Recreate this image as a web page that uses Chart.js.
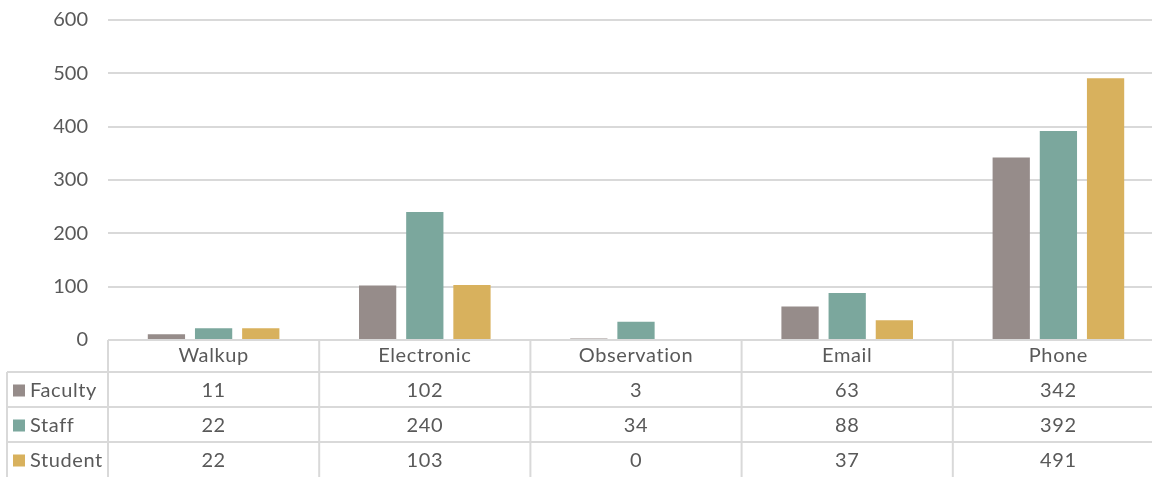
<!DOCTYPE html>
<html>
<head>
<meta charset="utf-8">
<script src="https://cdn.jsdelivr.net/npm/chart.js@4/dist/chart.umd.min.js"></script>
<style>
  html, body { margin: 0; padding: 0; background: #fff; overflow: hidden; }
  #wrap { width: 1164px; height: 477px; position: relative; }
</style>
</head>
<body>
<div id="wrap"><canvas id="c"></canvas></div>
<script>
const categories = ['Walkup', 'Electronic', 'Observation', 'Email', 'Phone'];
const seriesNames = ['Faculty', 'Staff', 'Student'];
const faculty = [11, 102, 3, 63, 342];
const staff = [22, 240, 34, 88, 392];
const student = [22, 103, 0, 37, 491];
const seriesColors = ['#968C8A', '#7BA79D', '#D8B15D'];

const FONT = 'Lato, "Open Sans", sans-serif';
const TEXT = '#595959';
const LINE = '#D9D9D9';
const seriesValues = [faculty, staff, student];

// Data table under the plot: header row with categories, one row per series
const dataTable = {
  id: 'dataTable',
  afterDraw(chart) {
    const ctx = chart.ctx;
    const xs = chart.scales.x;
    const area = chart.chartArea;
    const top = area.bottom;
    const rowTops = [top, top + 32, top + 67, top + 102, top + 137];
    const colW = (area.right - area.left) / categories.length;
    const labelLeft = 7;

    ctx.save();
    ctx.strokeStyle = LINE;
    ctx.lineWidth = 2;
    // horizontal rules
    for (let r = 1; r <= 3; r++) {
      ctx.beginPath();
      ctx.moveTo(labelLeft, rowTops[r]);
      ctx.lineTo(area.right, rowTops[r]);
      ctx.stroke();
    }
    // vertical rules
    ctx.beginPath();
    ctx.moveTo(labelLeft, rowTops[1]);
    ctx.lineTo(labelLeft, rowTops[4]);
    ctx.stroke();
    for (let i = 0; i < categories.length; i++) {
      const x = area.left + i * colW;
      ctx.beginPath();
      ctx.moveTo(x, top);
      ctx.lineTo(x, rowTops[4]);
      ctx.stroke();
    }

    ctx.fillStyle = TEXT;
    ctx.font = '20px ' + FONT;
    ctx.letterSpacing = '0.6px';
    ctx.textBaseline = 'middle';
    ctx.textAlign = 'center';
    categories.forEach((cat, i) => {
      const cx = xs.getPixelForValue(i);
      ctx.fillText(cat, cx, (rowTops[0] + rowTops[1]) / 2);
      seriesValues.forEach((vals, s) => {
        ctx.fillText(String(vals[i]), cx, (rowTops[s + 1] + rowTops[s + 2]) / 2 + 1);
      });
    });

    // series names with colour keys
    ctx.textAlign = 'left';
    seriesNames.forEach((name, s) => {
      const cy = (rowTops[s + 1] + rowTops[s + 2]) / 2 + 1;
      ctx.fillStyle = seriesColors[s];
      ctx.fillRect(13, cy - 6, 12, 12);
      ctx.fillStyle = TEXT;
      ctx.fillText(name, 30, cy);
    });
    ctx.restore();
  }
};

new Chart(document.getElementById('c'), {
  type: 'bar',
  data: {
    labels: categories,
    datasets: seriesNames.map((name, s) => ({
      label: name,
      data: seriesValues[s],
      backgroundColor: seriesColors[s],
      borderColor: '#FFFFFF',
      borderWidth: 0,
      categoryPercentage: 0.67,
      barPercentage: 0.79
    }))
  },
  options: {
    responsive: true,
    maintainAspectRatio: false,
    animation: false,
    layout: { padding: { top: 20, bottom: 137, left: 0, right: 0 } },
    plugins: { legend: { display: false }, tooltip: { enabled: false } },
    scales: {
      x: { display: false },
      y: {
        min: 0,
        max: 600,
        ticks: {
          stepSize: 100,
          color: TEXT,
          padding: 20,
          font: { family: FONT, size: 20 }
        },
        grid: { color: LINE, lineWidth: 2, drawTicks: false },
        border: { display: false },
        afterFit(scale) {
          scale.width = 108;
          scale.paddingTop = 0;
          scale.paddingBottom = 0;
        }
      }
    }
  },
  plugins: [dataTable]
});
</script>
</body>
</html>
